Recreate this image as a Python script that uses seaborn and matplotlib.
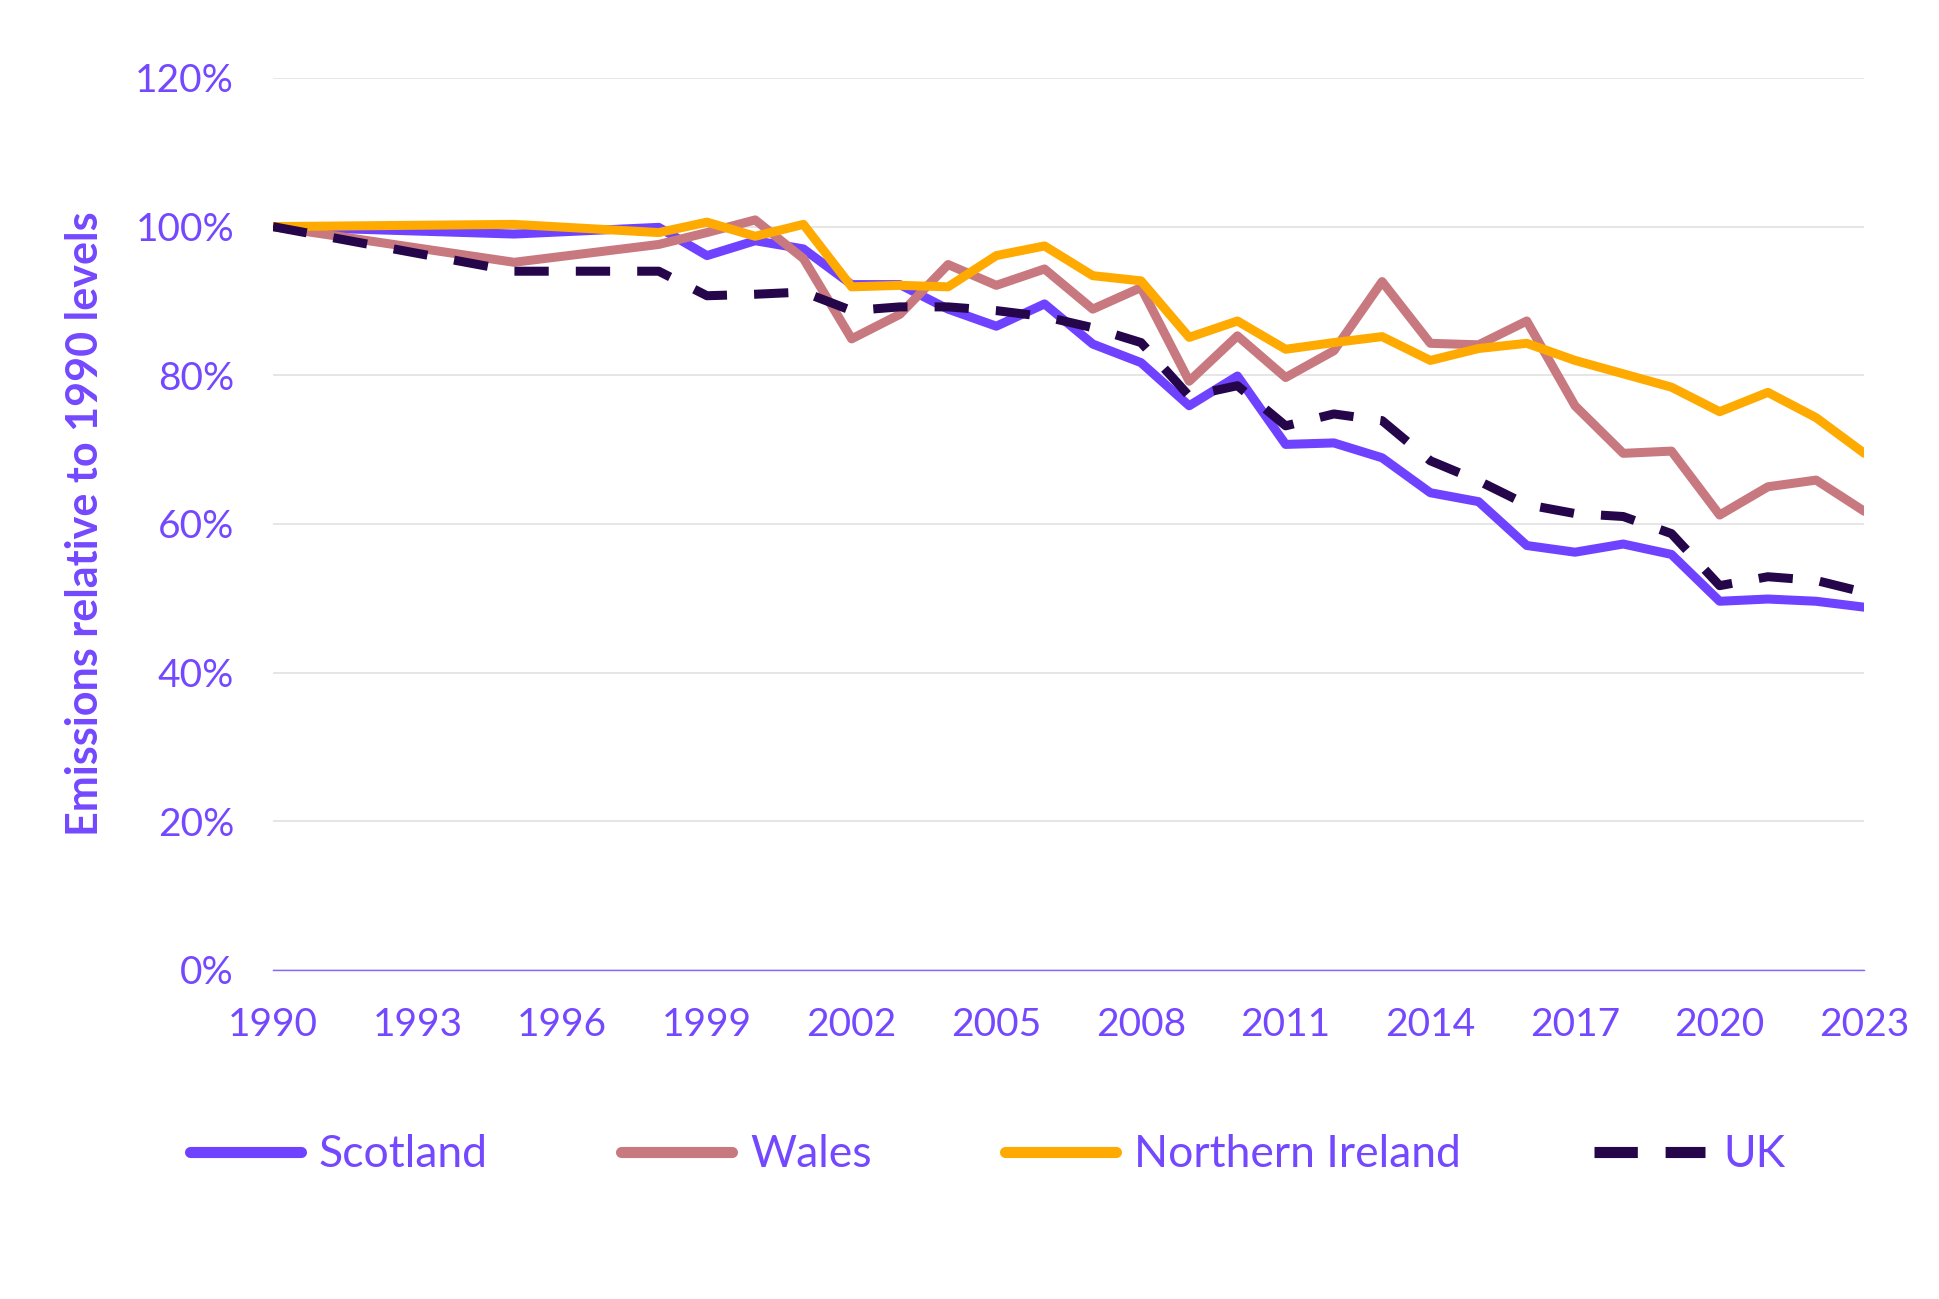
import matplotlib
matplotlib.use('Agg')
import matplotlib.pyplot as plt
from matplotlib.lines import Line2D
import pandas as pd
import seaborn as sns
import numpy as np

years = [1990, 1995] + list(range(1998, 2024))
scotland = [100, 99.0, 99.9, 96.1, 98.1, 97.0, 92.2, 92.2, 88.9, 86.6, 89.6, 84.2, 81.7, 75.9, 79.9,
            70.7, 70.9, 68.9, 64.2, 63.0, 57.1, 56.2, 57.3, 55.9, 49.6, 49.9, 49.6, 48.8]
wales = [100, 95.2, 97.6, 99.2, 100.9, 95.7, 84.9, 88.2, 94.9, 92.1, 94.3, 88.9, 91.8, 79.2, 85.3,
         79.7, 83.3, 92.6, 84.3, 84.1, 87.3, 75.9, 69.5, 69.8, 61.2, 65.0, 65.9, 61.7]
n_ireland = [100, 100.3, 99.2, 100.6, 98.7, 100.3, 91.9, 92.1, 91.9, 96.1, 97.4, 93.4, 92.7, 85.1, 87.3,
             83.5, 84.4, 85.2, 82.0, 83.6, 84.3, 82.0, 80.2, 78.4, 75.1, 77.7, 74.3, 69.5]
uk = [100, 94.0, 94.0, 90.7, 90.9, 91.2, 88.7, 89.2, 89.2, 88.7, 87.9, 86.4, 84.4, 77.2, 78.6,
      73.2, 74.8, 73.9, 68.5, 65.8, 62.6, 61.4, 61.0, 58.7, 51.7, 52.9, 52.4, 50.8]
regions = ['Scotland', 'Wales', 'Northern Ireland', 'UK']
colors = {'Scotland': '#6F42FF', 'Wales': '#C8787F', 'Northern Ireland': '#FFAA00', 'UK': '#26064A'}
xticks = list(range(1990, 2024, 3))
yticks = [0, 20, 40, 60, 80, 100, 120]

df = pd.DataFrame({
    'year': years * 4,
    'value': scotland + wales + n_ireland + uk,
    'region': sum([[r] * len(years) for r in regions], []),
})

txt = '#7448FF'
sns.set_style('white')
plt.rcParams['font.family'] = ['Lato', 'DejaVu Sans']

fig = plt.figure(figsize=(19.4, 12.99), dpi=100)
ax = fig.add_axes([0.1407, 0.2533, 0.8203, 0.6867])

sns.lineplot(data=df, x='year', y='value', hue='region', style='region',
             hue_order=regions, style_order=regions, palette=colors,
             dashes={'Scotland': '', 'Wales': '', 'Northern Ireland': '', 'UK': (3.8, 3.0)},
             linewidth=6.5, legend=False, ax=ax)

ax.set_xlim(1990, 2023)
ax.set_ylim(0, 120)
ax.set_xticks(xticks)
ax.set_yticks(yticks)
ax.set_yticklabels([f'{v}%' for v in yticks])
ax.set_xlabel('')
ax.set_ylabel('Emissions relative to 1990 levels', fontsize=31, color=txt, fontweight='bold',
              labelpad=22)
ax.yaxis.grid(True, color='#E2E2E2', linewidth=1.2)
ax.xaxis.grid(False)
for s in ['top', 'right', 'left']:
    ax.spines[s].set_visible(False)
ax.spines['bottom'].set_color('#8A66FF')
ax.spines['bottom'].set_linewidth(1.0)
ax.tick_params(axis='both', length=0, labelsize=28, labelcolor=txt)
ax.tick_params(axis='x', pad=27)
ax.tick_params(axis='y', pad=28)

handles = [Line2D([], [], color=colors[r], lw=8,
                  linestyle=(0, (3.9, 2.5)) if r == 'UK' else '-') for r in regions]
leg = fig.legend(handles, regions, loc='center', bbox_to_anchor=(0.509, 0.111), ncol=4,
                 frameon=False, fontsize=32, handlelength=2.5, handletextpad=0.4,
                 columnspacing=3.0)
for t in leg.get_texts():
    t.set_color(txt)

fig.savefig('out.png', dpi=100)
